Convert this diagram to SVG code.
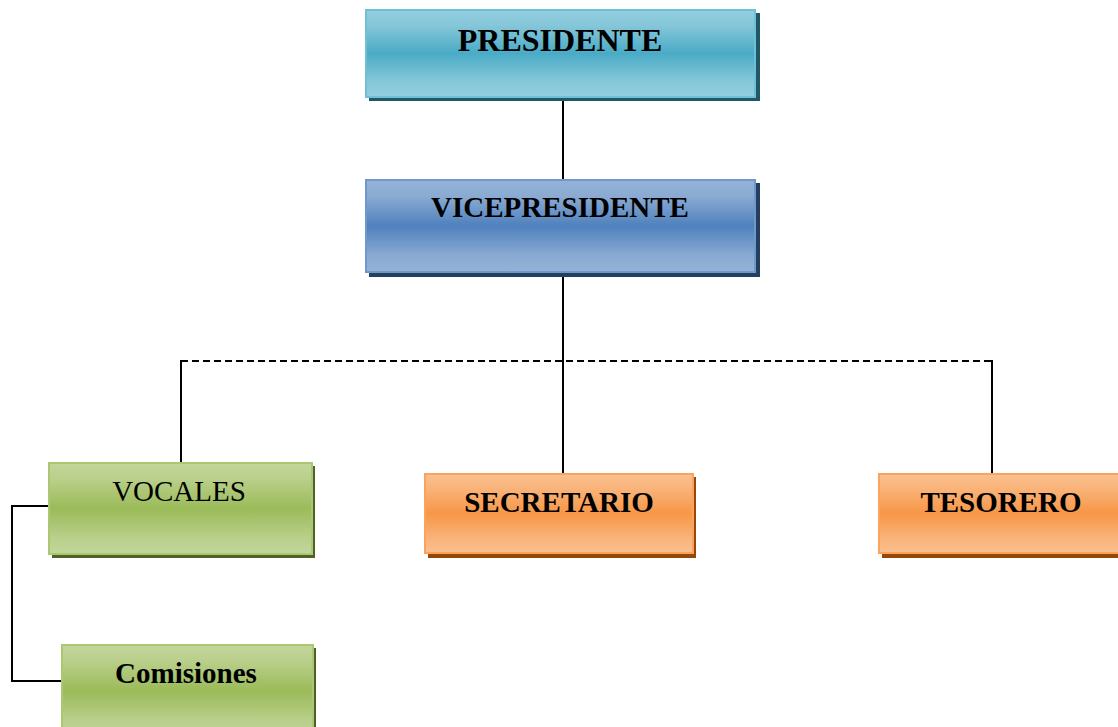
<svg xmlns="http://www.w3.org/2000/svg" width="1118" height="727" viewBox="0 0 1118 727">
<defs>
<linearGradient id="gBlueL" x1="0" y1="0" x2="0" y2="1">
<stop offset="0" stop-color="#93cfdf"/><stop offset="0.18" stop-color="#85c6d9"/><stop offset="0.5" stop-color="#4aabc6"/><stop offset="0.82" stop-color="#86c7d9"/><stop offset="1" stop-color="#93cfdf"/>
</linearGradient>
<linearGradient id="gBlue" x1="0" y1="0" x2="0" y2="1">
<stop offset="0" stop-color="#95b3d7"/><stop offset="0.18" stop-color="#8aaad2"/><stop offset="0.5" stop-color="#4f81bd"/><stop offset="0.82" stop-color="#8aaad2"/><stop offset="1" stop-color="#95b3d7"/>
</linearGradient>
<linearGradient id="gGreen" x1="0" y1="0" x2="0" y2="1">
<stop offset="0" stop-color="#c3d69b"/><stop offset="0.18" stop-color="#b9cf8a"/><stop offset="0.5" stop-color="#9bbb59"/><stop offset="0.82" stop-color="#b9cf8a"/><stop offset="1" stop-color="#c3d69b"/>
</linearGradient>
<linearGradient id="gOrange" x1="0" y1="0" x2="0" y2="1">
<stop offset="0" stop-color="#fac08f"/><stop offset="0.18" stop-color="#f9b47a"/><stop offset="0.5" stop-color="#f79646"/><stop offset="0.82" stop-color="#f9b47a"/><stop offset="1" stop-color="#fac08f"/>
</linearGradient>
</defs>
<style>
text{font-family:"Liberation Serif","Times New Roman",serif;fill:#000;text-anchor:middle}
.b{font-weight:bold}
.conn{stroke:#000;stroke-width:2;fill:none}
.dash{stroke-dasharray:7,4}
</style>
<g id="connectors">
<line class="conn" x1="563" y1="97" x2="563" y2="179"/>
<line class="conn" x1="563" y1="272" x2="563" y2="473"/>
<line class="conn dash" x1="181" y1="361" x2="992" y2="361"/>
<line class="conn" x1="181" y1="360" x2="181" y2="463"/>
<line class="conn" x1="992" y1="360" x2="992" y2="474"/>
<polyline class="conn" points="49,506 12,506 12,681 62,681"/>
</g>
<g id="presidente">
<rect x="369" y="13" width="391" height="88" fill="#205867"/>
<rect x="366" y="10" width="389" height="87" fill="url(#gBlueL)" stroke="#6fc0d5" stroke-width="2"/>
<text class="b" x="560" y="51" font-size="32">PRESIDENTE</text>
</g>
<g id="vicepresidente">
<rect x="369" y="183" width="391" height="94" fill="#243f60"/>
<rect x="366" y="180" width="389" height="92" fill="url(#gBlue)" stroke="#6f98cb" stroke-width="2"/>
<text class="b" x="560" y="217" font-size="29">VICEPRESIDENTE</text>
</g>
<g id="vocales">
<rect x="52" y="466" width="263" height="92" fill="#4f6228"/>
<rect x="49" y="463" width="263" height="91" fill="url(#gGreen)" stroke="#aac773" stroke-width="2"/>
<text x="179" y="501" font-size="29">VOCALES</text>
</g>
<g id="comisiones">
<rect x="65" y="648" width="251" height="92" fill="#4f6228"/>
<rect x="62" y="645" width="251" height="92" fill="url(#gGreen)" stroke="#aac773" stroke-width="2"/>
<text class="b" x="186" y="683" font-size="29">Comisiones</text>
</g>
<g id="secretario">
<rect x="428" y="477" width="268" height="81" fill="#984806"/>
<rect x="425" y="474" width="268" height="79" fill="url(#gOrange)" stroke="#f9a35f" stroke-width="2"/>
<text class="b" x="559" y="512" font-size="29">SECRETARIO</text>
</g>
<g id="tesorero">
<rect x="882" y="477" width="250" height="81" fill="#984806"/>
<rect x="879" y="474" width="246" height="79" fill="url(#gOrange)" stroke="#f9a35f" stroke-width="2"/>
<text class="b" x="1001" y="512" font-size="29">TESORERO</text>
</g>
</svg>
